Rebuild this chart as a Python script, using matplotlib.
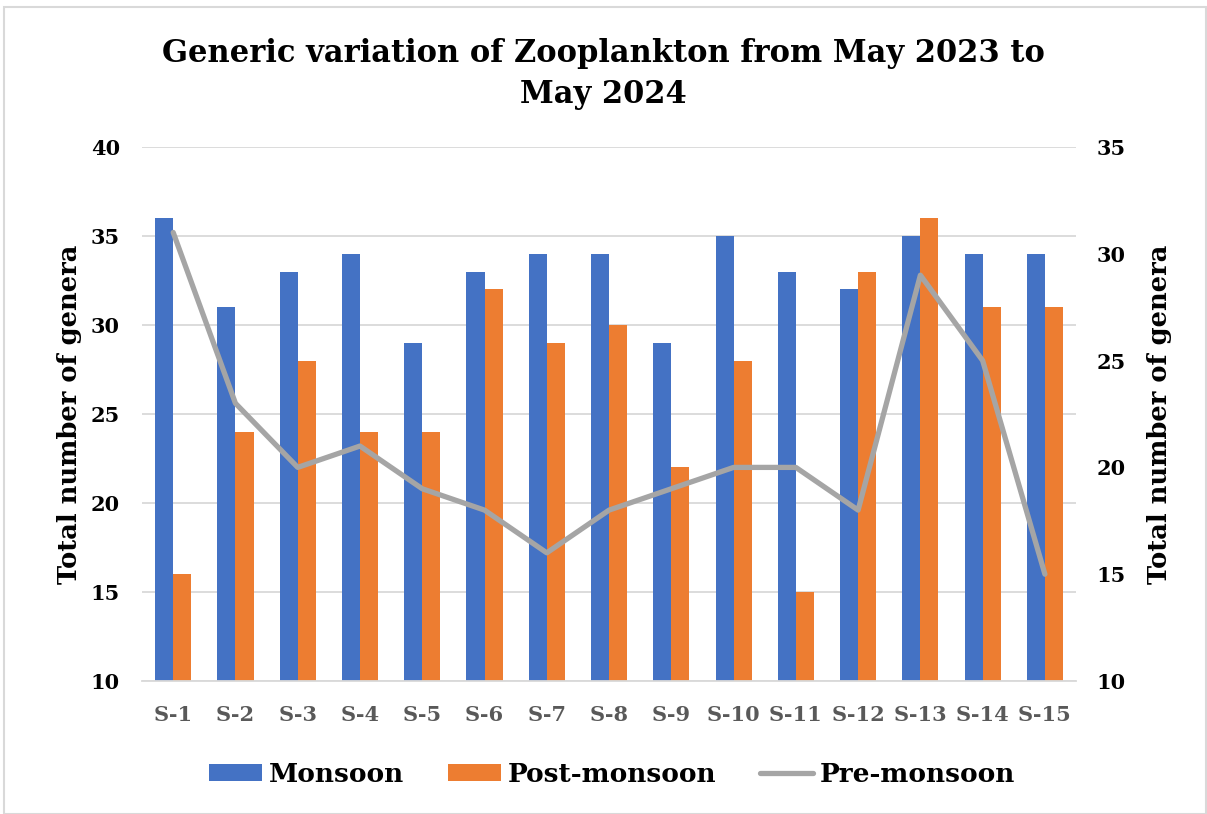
import matplotlib
matplotlib.use("Agg")
import matplotlib.pyplot as plt
import numpy as np
from matplotlib.patches import Rectangle
from matplotlib.lines import Line2D
from matplotlib.patches import Patch

sites = ["S-1", "S-2", "S-3", "S-4", "S-5", "S-6", "S-7", "S-8", "S-9", "S-10",
         "S-11", "S-12", "S-13", "S-14", "S-15"]
monsoon = [36, 31, 33, 34, 29, 33, 34, 34, 29, 35, 33, 32, 35, 34, 34]
post_monsoon = [16, 24, 28, 24, 24, 32, 29, 30, 22, 28, 15, 33, 36, 31, 31]
pre_monsoon = [31, 23, 20, 21, 19, 18, 16, 18, 19, 20, 20, 18, 29, 25, 15]

plt.rcParams['font.family'] = ['DejaVu Serif']

fig = plt.figure(figsize=(12.07, 8.14), dpi=100)
fig.patches.append(Rectangle((0.003, 0.0), 0.996, 0.992, transform=fig.transFigure,
                             fill=False, edgecolor="#D9D9D9", linewidth=1.5))
ax = fig.add_axes([0.1177, 0.1634, 0.7738, 0.656])
ax2 = ax.twinx()

x = np.arange(len(sites))
w = 0.29
ax.bar(x - w/2, monsoon, w, color="#4472C4", zorder=2)
ax.bar(x + w/2, post_monsoon, w, color="#ED7D31", zorder=2)
ax.set_ylim(10, 40)
ax.set_xlim(-0.5, len(sites) - 0.5)
ax.set_yticks(range(10, 41, 5))
ax.yaxis.grid(True, color="#D9D9D9", linewidth=1.3, zorder=0)
ax.set_axisbelow(True)
for s in ax.spines.values():
    s.set_visible(False)
for s in ax2.spines.values():
    s.set_visible(False)
ax.spines['bottom'].set_visible(True)
ax.spines['bottom'].set_color("#D9D9D9")
ax.spines['bottom'].set_linewidth(1.3)
ax.tick_params(axis='both', length=0)
ax.set_xticks(x)
ax.set_xticklabels(sites)
for lbl in ax.get_xticklabels():
    lbl.set_color("#595959"); lbl.set_fontweight("bold"); lbl.set_fontsize(15)
for lbl in ax.get_yticklabels():
    lbl.set_color("black"); lbl.set_fontweight("bold"); lbl.set_fontsize(15)
ax.tick_params(axis='x', pad=17)
ax.tick_params(axis='y', pad=16)

ax2.plot(x, pre_monsoon, color="#A5A5A5", linewidth=3.8, solid_capstyle="round", zorder=3)
ax2.set_ylim(10, 35)
ax2.set_yticks(range(10, 36, 5))
ax2.tick_params(axis='y', length=0, pad=15)
for lbl in ax2.get_yticklabels():
    lbl.set_color("black"); lbl.set_fontweight("bold"); lbl.set_fontsize(15)

ax.set_ylabel("Total number of genera", fontsize=18.5, fontweight="bold", labelpad=6)
ax2.set_ylabel("Total number of genera", fontsize=18.5, fontweight="bold", labelpad=15)

fig.text(0.5, 0.909, "Generic variation of Zooplankton from May 2023 to\nMay 2024",
         ha="center", va="center", fontsize=22, fontweight="bold", linespacing=1.42)

handles = [Patch(facecolor="#4472C4"), Patch(facecolor="#ED7D31"),
           Line2D([0], [0], color="#A5A5A5", linewidth=3.8, solid_capstyle="round")]
fig.legend(handles, ["Monsoon", "Post-monsoon", "Pre-monsoon"], loc="center",
           bbox_to_anchor=(0.507, 0.049), ncol=3, frameon=False,
           prop={"size": 19, "weight": "bold"}, handlelength=2.0, handleheight=0.64,
           columnspacing=1.67, handletextpad=0.25)

fig.savefig("out.png", dpi=100)
